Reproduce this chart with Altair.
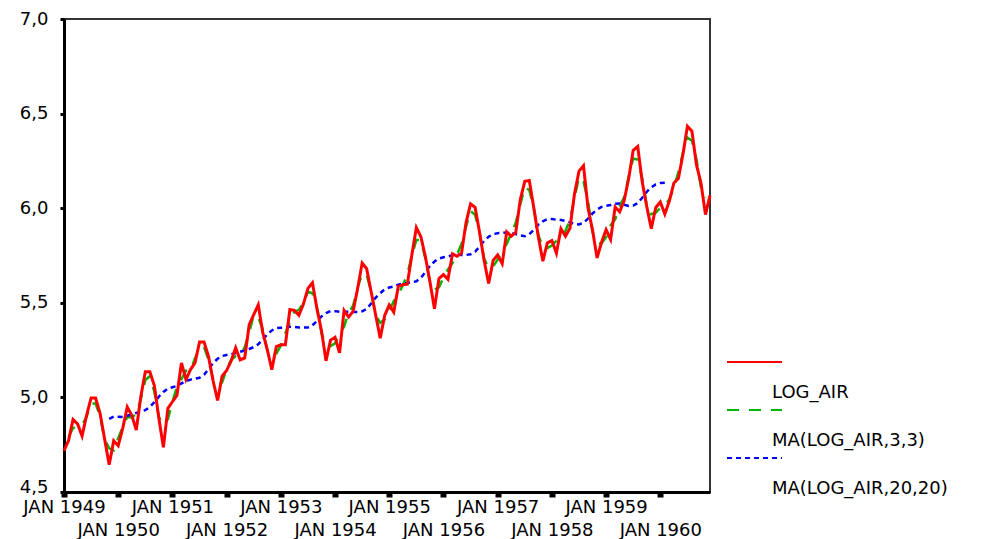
import altair as alt
import pandas as pd

# ---------------- data ----------------
years = list(range(1949, 1961))
month_index = list(range(144))  # Jan 1949 .. Dec 1960

log_air = [
    4.718, 4.771, 4.883, 4.860, 4.796, 4.905, 4.997, 4.997, 4.913, 4.779, 4.644, 4.771,
    4.745, 4.836, 4.949, 4.905, 4.828, 5.004, 5.136, 5.136, 5.063, 4.890, 4.736, 4.942,
    4.977, 5.011, 5.182, 5.094, 5.147, 5.182, 5.293, 5.293, 5.215, 5.088, 4.984, 5.112,
    5.142, 5.193, 5.263, 5.198, 5.209, 5.384, 5.438, 5.489, 5.342, 5.252, 5.147, 5.268,
    5.278, 5.278, 5.464, 5.460, 5.434, 5.493, 5.576, 5.606, 5.468, 5.352, 5.193, 5.303,
    5.318, 5.236, 5.460, 5.425, 5.455, 5.576, 5.710, 5.680, 5.557, 5.434, 5.313, 5.434,
    5.489, 5.451, 5.587, 5.595, 5.598, 5.753, 5.897, 5.849, 5.743, 5.613, 5.468, 5.628,
    5.649, 5.624, 5.759, 5.746, 5.762, 5.924, 6.023, 6.004, 5.872, 5.724, 5.602, 5.724,
    5.753, 5.707, 5.875, 5.852, 5.872, 6.045, 6.142, 6.146, 6.001, 5.849, 5.720, 5.817,
    5.829, 5.762, 5.892, 5.852, 5.894, 6.075, 6.196, 6.225, 6.001, 5.883, 5.737, 5.820,
    5.886, 5.835, 6.006, 5.981, 6.040, 6.157, 6.306, 6.326, 6.138, 6.009, 5.892, 6.004,
    6.033, 5.969, 6.038, 6.133, 6.157, 6.282, 6.433, 6.407, 6.230, 6.133, 5.966, 6.068,
]

# MA(LOG_AIR,3,3): Feb 1949 .. Nov 1960
ma_3 = [
    4.791, 4.838, 4.846, 4.854, 4.899, 4.966, 4.969, 4.896, 4.779, 4.731, 4.720,
    4.784, 4.843, 4.897, 4.894, 4.912, 4.989, 5.092, 5.112, 5.030, 4.896, 4.856, 4.885,
    4.977, 5.057, 5.096, 5.141, 5.141, 5.207, 5.256, 5.267, 5.199, 5.096, 5.061, 5.079,
    5.149, 5.199, 5.218, 5.223, 5.264, 5.344, 5.437, 5.423, 5.361, 5.247, 5.222, 5.231,
    5.275, 5.340, 5.401, 5.453, 5.462, 5.501, 5.558, 5.550, 5.475, 5.338, 5.283, 5.271,
    5.286, 5.338, 5.374, 5.447, 5.485, 5.580, 5.655, 5.649, 5.557, 5.435, 5.394, 5.412,
    5.458, 5.509, 5.544, 5.593, 5.649, 5.749, 5.833, 5.830, 5.735, 5.608, 5.570, 5.582,
    5.634, 5.677, 5.710, 5.756, 5.811, 5.903, 5.984, 5.966, 5.867, 5.733, 5.683, 5.693,
    5.728, 5.778, 5.811, 5.866, 5.923, 6.020, 6.111, 6.096, 5.999, 5.857, 5.795, 5.789,
    5.803, 5.828, 5.835, 5.879, 5.940, 6.055, 6.165, 6.141, 6.036, 5.874, 5.813, 5.814,
    5.847, 5.909, 5.941, 6.009, 6.059, 6.168, 6.263, 6.257, 6.158, 6.013, 5.968, 5.976,
    6.002, 6.013, 6.047, 6.109, 6.191, 6.291, 6.374, 6.357, 6.257, 6.110, 6.056,
]

# MA(LOG_AIR,20,20): Nov 1949 .. Feb 1960
ma_20 = [
    4.887, 4.899,
    4.898, 4.897, 4.903, 4.910, 4.918, 4.925, 4.933, 4.949, 4.975, 5.004, 5.029, 5.047,
    5.054, 5.060, 5.074, 5.086, 5.094, 5.099, 5.104, 5.120, 5.150, 5.181, 5.204, 5.219,
    5.224, 5.228, 5.235, 5.241, 5.248, 5.256, 5.266, 5.281, 5.306, 5.333, 5.354, 5.366,
    5.368, 5.369, 5.374, 5.373, 5.370, 5.369, 5.370, 5.381, 5.404, 5.428, 5.445, 5.456,
    5.456, 5.452, 5.453, 5.453, 5.452, 5.452, 5.455, 5.468, 5.496, 5.527, 5.551, 5.572,
    5.581, 5.586, 5.596, 5.602, 5.605, 5.608, 5.614, 5.632, 5.662, 5.694, 5.718, 5.734,
    5.741, 5.745, 5.752, 5.755, 5.753, 5.753, 5.756, 5.770, 5.798, 5.827, 5.849, 5.863,
    5.868, 5.869, 5.872, 5.870, 5.863, 5.856, 5.852, 5.862, 5.885, 5.913, 5.931, 5.942,
    5.943, 5.939, 5.938, 5.933, 5.925, 5.917, 5.914, 5.923, 5.945, 5.972, 5.993, 6.007,
    6.013, 6.017, 6.024, 6.025, 6.018, 6.012, 6.014, 6.027, 6.055, 6.087, 6.110, 6.126,
    6.133, 6.134,
]

series_names = ["LOG_AIR", "MA(LOG_AIR,3,3)", "MA(LOG_AIR,20,20)"]
series_colors = ["#ff0000", "#00b400", "#0000ff"]
series_dashes = [[1, 0], [12, 10], [5, 4]]

# ---------------- tables ----------------
df_log = pd.DataFrame({"month": month_index, "value": log_air})
df_ma3 = pd.DataFrame({"month": month_index[1:1 + len(ma_3)], "value": ma_3})
df_ma20 = pd.DataFrame({"month": month_index[10:10 + len(ma_20)], "value": ma_20})

FONT = "DejaVu Sans"
FS = 18

tick_months = [m for m in month_index if m % 12 == 0]

x_enc = alt.X(
    "month:Q",
    scale=alt.Scale(domain=[0, 143], nice=False, zero=False),
    axis=alt.Axis(
        values=tick_months,
        title=None,
        grid=False,
        labelExpr=(
            "floor(datum.value/12) % 2 == 0 ? 'JAN ' + (1949 + floor(datum.value/12))"
            " : ['', 'JAN ' + (1949 + floor(datum.value/12))]"
        ),
        labelOverlap=False,
        labelFlush=False,
        labelBound=False,
        labelPadding=1,
        labelLineHeight=23,
        labelFont=FONT,
        labelFontSize=FS,
        labelColor="black",
        domainColor="black",
        domainWidth=3,
        tickColor="black",
        tickWidth=6,
        tickSize=5,
    ),
)

y_enc = alt.Y(
    "value:Q",
    scale=alt.Scale(domain=[4.5, 7.0], nice=False, zero=False),
    axis=alt.Axis(
        values=[4.5, 5.0, 5.5, 6.0, 6.5, 7.0],
        title=None,
        grid=False,
        labelExpr="replace(format(datum.value, '.1f'), '.', ',')",
        labelBaseline={"condition": {"test": "datum.value < 4.6", "value": "alphabetic"}, "value": "middle"},
        labelPadding=12,
        labelFont=FONT,
        labelFontSize=FS,
        labelColor="black",
        domainColor="black",
        domainWidth=3,
        tickColor="black",
        tickWidth=3,
        tickSize=4,
        minExtent=55,
    ),
)

line_ma20 = alt.Chart(df_ma20).mark_line(
    color=series_colors[2], strokeWidth=2.5, strokeDash=series_dashes[2]
).encode(x=x_enc, y=y_enc)

line_ma3 = alt.Chart(df_ma3).mark_line(
    color=series_colors[1], strokeWidth=2.5, strokeDash=series_dashes[1]
).encode(x=x_enc, y=y_enc)

line_log = alt.Chart(df_log).mark_line(
    color=series_colors[0], strokeWidth=3
).encode(x=x_enc, y=y_enc)

main = alt.layer(line_ma3, line_ma20, line_log).properties(
    width=646,
    height=473,
    view=alt.ViewBackground(stroke="#333333", strokeWidth=2),
)

# ---------------- legend panel ----------------
df_leg = pd.DataFrame({"series": series_names})
leg_y = alt.Y(
    "series:N",
    scale=alt.Scale(type="point", domain=series_names, range=[343, 439], padding=0),
    axis=None,
)

leg_rules = alt.Chart(df_leg).mark_rule(strokeWidth=2).encode(
    x=alt.value(0),
    x2=alt.value(55),
    y=leg_y,
    color=alt.Color("series:N", scale=alt.Scale(domain=series_names, range=series_colors), legend=None),
    strokeDash=alt.StrokeDash(
        "series:N", scale=alt.Scale(domain=series_names, range=series_dashes), legend=None
    ),
)

leg_text = alt.Chart(df_leg).mark_text(
    align="left", baseline="middle", dy=31, font=FONT, fontSize=FS, color="black"
).encode(
    x=alt.value(45),
    y=leg_y,
    text="series:N",
)

legend = alt.layer(leg_rules, leg_text).properties(
    width=230,
    height=473,
    view=alt.ViewBackground(stroke="transparent"),
)

chart = (
    alt.hconcat(main, legend, spacing=8)
    .resolve_scale(x="independent", y="independent", color="independent", strokeDash="independent")
    .properties(padding={"left": 0, "top": 1, "right": 0, "bottom": 0}, background="white")
)

chart.save("out.html", embed_options={"renderer": "svg", "actions": False})
